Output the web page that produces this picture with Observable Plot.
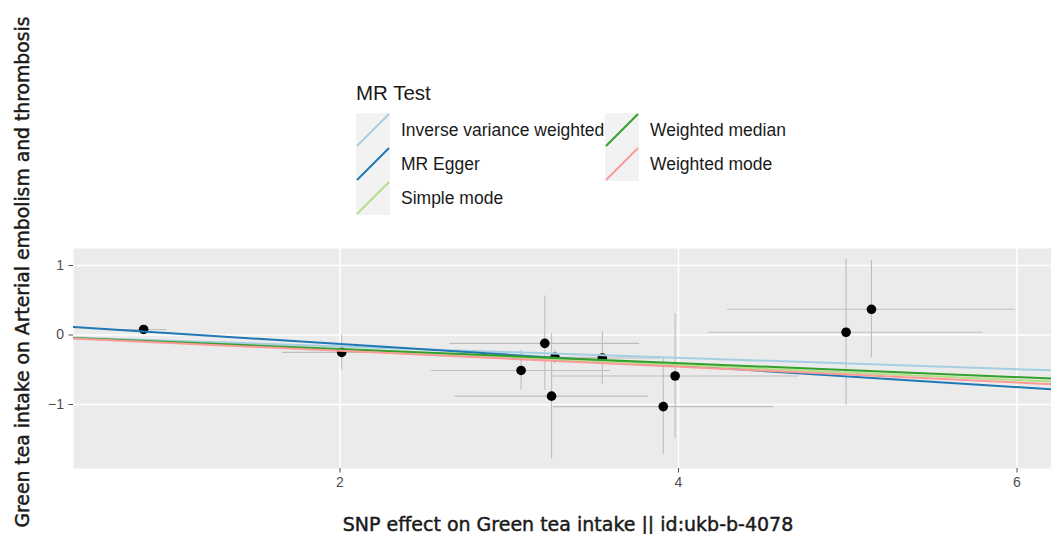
<!DOCTYPE html>
<html>
<head>
<meta charset="utf-8">
<script src="https://cdn.jsdelivr.net/npm/d3@7"></script>
<script src="https://cdn.jsdelivr.net/npm/@observablehq/plot@0.6"></script>
<style>
  body { margin: 0; background: #fff; }
  #wrap { position: relative; width: 1051px; height: 534px; overflow: hidden; background: #fff; }
  #wrap svg.plot { position: absolute; left: 0; top: 0; }
  .ov { position: absolute; white-space: nowrap; }
  .atitle { -webkit-text-stroke: 0.45px #1a1a1a; }
</style>
</head>
<body>
<div id="wrap"></div>
<script>
// ---- data ----
const methods = ["Inverse variance weighted", "MR Egger", "Simple mode", "Weighted median", "Weighted mode"];
const methodColors = ["#A6CEE3", "#1F78B4", "#B2DF8A", "#33A02C", "#FB9A99"];
const intercepts = [0, 0.18, 0, 0, 0];
const slopes = [-0.082, -0.155, -0.108, -0.101, -0.114];

const snpBetaX = [0.84, 2.01, 3.07, 3.21, 3.25, 3.27, 3.55, 3.91, 3.98, 4.99, 5.14];
const snpBetaY = [0.08, -0.25, -0.51, -0.12, -0.88, -0.32, -0.33, -1.03, -0.59, 0.04, 0.37];
const snpSeX   = [0.14, 0.35, 0.53, 0.56, 0.57, 0.30, 0.35, 0.65, 0.73, 0.81, 0.85];
const snpSeY   = [0.05, 0.25, 0.29, 0.68, 0.90, 0.10, 0.38, 0.69, 0.90, 1.05, 0.70];

const xTicks = [2, 4, 6];
const yTicks = [-1, 0, 1];
const xDomain = [0.4254, 6.2038];
const yDomain = [-1.921, 1.245];

const xTitle = "SNP effect on Green tea intake || id:ukb-b-4078";
const yTitle = "Green tea intake on Arterial embolism and thrombosis";
const legendTitle = "MR Test";

// ---- tables ----
const snps = snpBetaX.map((bx, i) => ({bx, by: snpBetaY[i], sx: snpSeX[i], sy: snpSeY[i]}));
const lineData = methods.flatMap((m, i) => xDomain.map(x => ({method: m, x, y: intercepts[i] + slopes[i] * x})));

const wrap = document.getElementById("wrap");
const fmt = d3.format("~g");

const chart = Plot.plot({
  width: 1051,
  height: 534,
  marginTop: 248,
  marginLeft: 73,
  marginRight: 0,
  marginBottom: 66,
  style: {background: "transparent", fontFamily: "'Liberation Sans', Arial, sans-serif"},
  x: {domain: xDomain},
  y: {domain: yDomain},
  color: {domain: methods, range: methodColors},
  marks: [
    Plot.frame({fill: "#EBEBEB", stroke: "none"}),
    Plot.gridX({ticks: xTicks, stroke: "#ffffff", strokeOpacity: 1, strokeWidth: 1.5}),
    Plot.gridY({ticks: yTicks, stroke: "#ffffff", strokeOpacity: 1, strokeWidth: 1.5}),
    Plot.axisX({ticks: xTicks, tickFormat: fmt, tickSize: 4.5, tickPadding: 4, fontSize: 14, color: "#4D4D4D", label: null}),
    Plot.axisY({ticks: yTicks, tickFormat: fmt, tickSize: 4.5, tickPadding: 5, fontSize: 14, color: "#4D4D4D", label: null}),
    Plot.ruleY(snps, {y: "by", x1: d => d.bx - d.sx, x2: d => d.bx + d.sx, stroke: "#BEBEBE", strokeWidth: 1.1}),
    Plot.ruleX(snps, {x: "bx", y1: d => d.by - d.sy, y2: d => d.by + d.sy, stroke: "#BEBEBE", strokeWidth: 1.1}),
    Plot.dot(snps, {x: "bx", y: "by", r: 4.8, fill: "#000000", stroke: "none"}),
    Plot.line(lineData, {x: "x", y: "y", z: "method", stroke: "method", strokeWidth: 2, clip: true})
  ]
});
chart.classList.add("plot");
wrap.appendChild(chart);

// ---- axis titles ----
const yt = document.createElement("div");
yt.className = "ov atitle";
yt.textContent = yTitle;
Object.assign(yt.style, {left: "22px", top: "272px", transform: "translate(-50%,-50%) rotate(-90deg)",
  font: "18.8px 'DejaVu Sans', sans-serif", color: "#1a1a1a"});
wrap.appendChild(yt);

const xt = document.createElement("div");
xt.className = "ov atitle";
xt.textContent = xTitle;
Object.assign(xt.style, {left: "568px", top: "524px", transform: "translate(-50%,-50%)",
  font: "19px 'DejaVu Sans', sans-serif", color: "#1a1a1a"});
wrap.appendChild(xt);

// ---- legend ----
const lt = document.createElement("div");
lt.className = "ov";
lt.textContent = legendTitle;
Object.assign(lt.style, {left: "356px", top: "93px", transform: "translateY(-50%)",
  font: "20.5px 'Liberation Sans', Arial, sans-serif", color: "#1a1a1a"});
wrap.appendChild(lt);

const keySize = 34;
const colX = [356, 605];
const rowTop = 113;
methods.forEach((m, i) => {
  const col = Math.floor(i / 3), row = i % 3;
  const kx = colX[col], ky = rowTop + row * keySize;
  const svg = d3.create("svg").attr("width", keySize).attr("height", keySize)
    .style("position", "absolute").style("left", kx + "px").style("top", ky + "px");
  svg.append("rect").attr("width", keySize).attr("height", keySize).attr("fill", "#F2F2F2");
  svg.append("line").attr("x1", 1).attr("y1", keySize - 1).attr("x2", keySize - 1).attr("y2", 1)
    .attr("stroke", methodColors[i]).attr("stroke-width", 2);
  wrap.appendChild(svg.node());
  const lab = document.createElement("div");
  lab.className = "ov";
  lab.textContent = m;
  Object.assign(lab.style, {left: (kx + 45) + "px", top: (ky + keySize / 2) + "px", transform: "translateY(-50%)",
    font: "17.5px 'Liberation Sans', Arial, sans-serif", color: "#1a1a1a"});
  wrap.appendChild(lab);
});
</script>
</body>
</html>
